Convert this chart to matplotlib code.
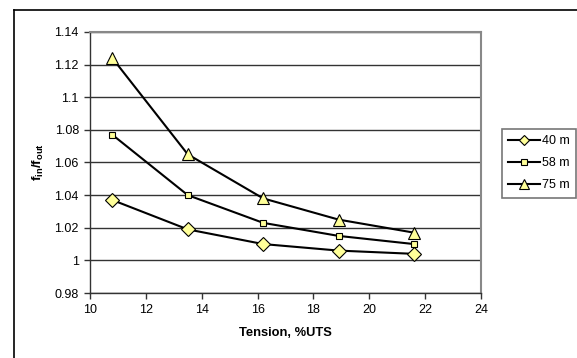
import matplotlib
matplotlib.use("Agg")
import matplotlib.pyplot as plt
from matplotlib.lines import Line2D

plt.rcParams['font.family'] = ['Liberation Sans', 'DejaVu Sans']
plt.rcParams['mathtext.fontset'] = 'custom'
plt.rcParams['mathtext.rm'] = 'Liberation Sans'
plt.rcParams['mathtext.bf'] = 'Liberation Sans:bold'
plt.rcParams['mathtext.it'] = 'Liberation Sans:italic'

tension = [10.8, 13.5, 16.2, 18.9, 21.6]
ratio_40 = [1.037, 1.019, 1.010, 1.006, 1.004]
ratio_58 = [1.077, 1.040, 1.023, 1.015, 1.010]
ratio_75 = [1.124, 1.065, 1.038, 1.025, 1.017]
labels = ['40 m', '58 m', '75 m']

W, H = 577, 358
fig = plt.figure(figsize=(W / 100, H / 100), dpi=100)
fig.patch.set_facecolor('white')

# plot area in pixels: left 90, right 481, top 32, bottom 293
g = fig.add_axes([90 / W, 1 - 293 / H, (481 - 90) / W, (293 - 32) / H])

yellow = '#ffff99'
g.plot(tension, ratio_40, '-D', color='black', lw=1.5, ms=7, mfc=yellow, mec='black', mew=0.8, label=labels[0])
g.plot(tension, ratio_58, '-s', color='black', lw=1.5, ms=5, mfc=yellow, mec='black', mew=0.8, label=labels[1])
g.plot(tension, ratio_75, '-^', color='black', lw=1.5, ms=9, mfc=yellow, mec='black', mew=0.8, label=labels[2])

g.set_xlim(10, 24)
g.set_ylim(0.98, 1.14)
g.set_xticks(range(10, 25, 2))
g.set_yticks([0.98, 1.0, 1.02, 1.04, 1.06, 1.08, 1.1, 1.12, 1.14])
g.set_yticklabels(['0.98', '1', '1.02', '1.04', '1.06', '1.08', '1.1', '1.12', '1.14'])
g.yaxis.grid(True, color='#333333', lw=1)
g.set_axisbelow(True)
for s in ['top', 'right']:
    g.spines[s].set_color('#888888')
    g.spines[s].set_linewidth(1.5)
for s in ['left', 'bottom']:
    g.spines[s].set_color('#333333')
    g.spines[s].set_linewidth(1)
g.tick_params(direction='out', length=4, width=1, labelsize=9, color='#333333', pad=4)

g.set_xlabel('Tension, %UTS', fontsize=9.3, fontweight='bold', labelpad=8)
g.set_ylabel(r'$\mathbf{f_{in}/f_{out}}$', fontsize=9.5, labelpad=6)

leg = fig.legend(loc='upper left', bbox_to_anchor=(502 / W, 1 - 129 / H), fontsize=9,
                 frameon=True, fancybox=False, edgecolor='#555555', handlelength=2.5,
                 handletextpad=0.2, borderpad=0.5, labelspacing=0.8, borderaxespad=0,
                 markerscale=0.75)
leg.get_frame().set_linewidth(1.2)

# outer chart frame (left and top edges)
fig.add_artist(Line2D([14 / W, 14 / W], [0, 1 - 10 / H], color='black', lw=1.2, transform=fig.transFigure))
fig.add_artist(Line2D([14 / W, 1], [1 - 10 / H, 1 - 10 / H], color='black', lw=1.2, transform=fig.transFigure))

plt.savefig('out.png', dpi=100)
